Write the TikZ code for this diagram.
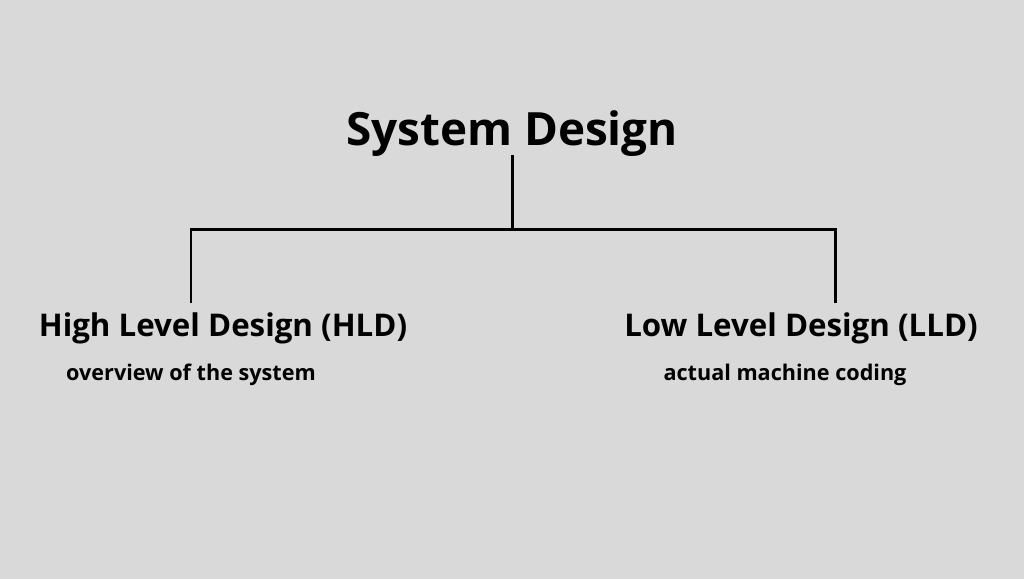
\documentclass[tikz,border=0pt]{standalone}
\usepackage{fontspec}
\setmainfont{Open Sans}
\usetikzlibrary{positioning}
\definecolor{bg}{RGB}{217,217,217}
\tikzset{
  head/.style={font=\bfseries\fontsize{26.1}{31}\selectfont},
  branch/.style={font=\bfseries\fontsize{17.8}{21}\selectfont},
  note/.style={font=\bfseries\fontsize{12.3}{15}\selectfont},
  tree/.style={line width=1.7pt}
}
\begin{document}
\begin{tikzpicture}[x=0.02cm,y=-0.02cm]
\fill[bg] (0,0) rectangle (1024,579);
\useasboundingbox (0,0) rectangle (1024,579);
% Titles
\node[head] (sys) at (512,134) {System Design};
\node[branch] (hld) at (223,328) {High Level Design (HLD)};
\node[branch] (lld) at (801,328) {Low Level Design (LLD)};
\node[note] (hldn) at (191,375) {overview of the system};
\node[note] (lldn) at (785,375) {actual machine coding};
% Tree
\coordinate (top) at (512,155);
\coordinate (mid) at (512,229);
\coordinate (hldtop) at (191,303);
\coordinate (lldtop) at (835,303);
\draw[tree] (top) -- (mid);
\draw[tree] (hldtop) |- (mid) -| (lldtop);
\end{tikzpicture}
\end{document}
